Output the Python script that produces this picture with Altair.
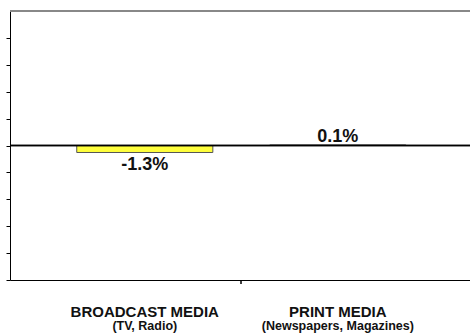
import altair as alt
import pandas as pd

categories = ["BROADCAST MEDIA", "PRINT MEDIA"]
subtitles = ["(TV, Radio)", "(Newspapers, Magazines)"]
values = [-1.3, 0.1]
tick_values = [-25, -20, -15, -10, -5, 0, 5, 10, 15, 20]

df = pd.DataFrame({"category": categories, "subtitle": subtitles, "value": values})

W, H = 460, 269
FONT = "Liberation Sans"

xscale = alt.Scale(domain=categories, paddingInner=0.295, paddingOuter=0.339, align=0.51)
yscale = alt.Scale(domain=[-25, 25], nice=False, zero=False)

xaxis = alt.Axis(labels=False, ticks=False, title=None, domainColor="#000000", domainWidth=1)
yaxis = alt.Axis(values=tick_values, tickCount=len(tick_values) + 2, labels=False, title=None,
                 grid=False, tickSize=4, tickColor="#000000", domainColor="#000000",
                 domainWidth=1, tickWidth=1)

base = alt.Chart(df)

xenc = alt.X("category:N", scale=xscale, sort=categories, axis=xaxis)
yenc = alt.Y("value:Q", scale=yscale, axis=yaxis)

bars = base.mark_bar(color="#FFFF3C", stroke="#555555", strokeWidth=1).encode(x=xenc, y=yenc)

zero = base.mark_rule(color="#000000", strokeWidth=1.6).encode(
    y=alt.datum(0, scale=yscale, axis=yaxis), x=alt.value(0), x2=alt.value(W)
)

top_line = base.mark_rule(color="#888888", strokeWidth=2).encode(
    y=alt.value(0), x=alt.value(0), x2=alt.value(W)
)

mid_tick = base.mark_rule(color="#000000", strokeWidth=1).encode(
    x=alt.value(231), y=alt.value(H), y2=alt.value(H + 4)
)

lab = base.transform_calculate(label="replace(format(datum.value, '.1f'), '\u2212', '-') + '%'")

pos_text = lab.transform_filter("datum.value >= 0").mark_text(
    font=FONT, fontSize=18, fontWeight="bold", color="#111111", baseline="alphabetic", dy=-3
).encode(x=xenc, y=yenc, text="label:N")

neg_text = lab.transform_filter("datum.value < 0").mark_text(
    font=FONT, fontSize=18, fontWeight="bold", color="#111111", baseline="alphabetic", dy=18
).encode(x=xenc, y=yenc, text="label:N")

cat_text = base.mark_text(
    font=FONT, fontSize=15, fontWeight="bold", color="#111111", baseline="alphabetic"
).encode(x=xenc, y=alt.value(306), text="category:N")

sub_text = base.mark_text(
    font=FONT, fontSize=12.5, fontWeight="bold", color="#111111", baseline="alphabetic"
).encode(x=xenc, y=alt.value(319), text="subtitle:N")

chart = alt.layer(top_line, bars, zero, mid_tick, pos_text, neg_text, cat_text, sub_text).properties(
    width=W, height=H,
    autosize=alt.AutoSizeParams(type="none"),
    padding={"left": 10, "top": 11, "right": 0, "bottom": 55},
    background="#ffffff",
).configure_view(stroke=None)

chart.save("out.html", embed_options={"renderer": "svg", "actions": False})
